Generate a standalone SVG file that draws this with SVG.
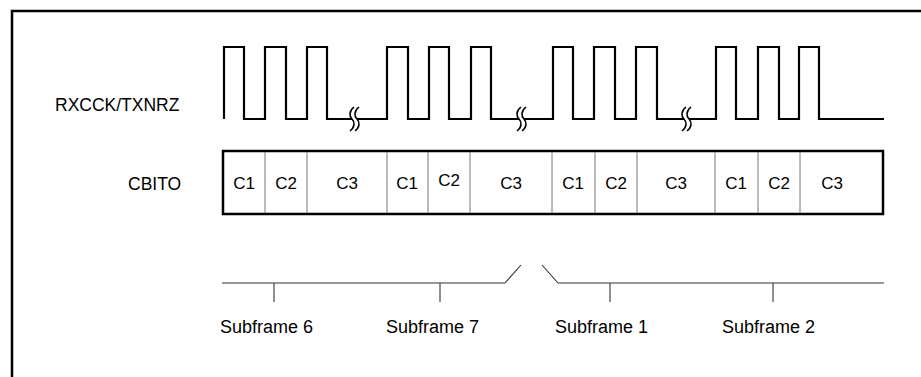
<svg xmlns="http://www.w3.org/2000/svg" width="921" height="377" viewBox="0 0 921 377">
<style>
text{font-family:"Liberation Sans",Arial,sans-serif;fill:#000}
.lbl{font-size:17.5px}
.cell{font-size:17px;text-anchor:middle}
.sub{font-size:18px}
.wave{fill:none;stroke:#000;stroke-width:2.2;stroke-linejoin:miter}
.sq{fill:none;stroke:#000;stroke-width:1.6}
.div{stroke:#777;stroke-width:1}
.conn{fill:none;stroke:#333;stroke-width:1.1}
</style>
<rect width="921" height="377" fill="#fff"/>
<path d="M12,377 V11 H921" fill="none" stroke="#000" stroke-width="2.5"/>
<g id="label-rxcck"><text class="lbl" x="55" y="111">RXCCK/TXNRZ</text></g>
<g id="label-cbito"><text class="lbl" x="128" y="190">CBITO</text></g>
<g id="waveform">
<path class="wave" d="M224,119 V47 H244 V119 H265 V47 H286 V119 H307 V47 H327 V119 H352 M357,119 H387 V47 H408 V119 H429 V47 H449 V119 H471 V47 H491 V119 H519 M524,119 H553 V47 H573 V119 H594 V47 H615 V119 H636 V47 H657 V119 H684 M689,119 H716 V47 H736 V119 H758 V47 H779 V119 H799 V47 H819 V119 H884"/>
<path class="sq" d="M354,107 C349,111 349,116 352,119 C355,122 355,127 350,131 M359,107 C354,111 354,116 357,119 C360,122 360,127 355,131"/>
<path class="sq" d="M521,107 C516,111 516,116 519,119 C522,122 522,127 517,131 M526,107 C521,111 521,116 524,119 C527,122 527,127 522,131"/>
<path class="sq" d="M686,107 C681,111 681,116 684,119 C687,122 687,127 682,131 M691,107 C686,111 686,116 689,119 C692,122 692,127 687,131"/>
</g>
<g id="cbito-box">
<rect x="223" y="151" width="660" height="63" fill="#fff" stroke="#000" stroke-width="2.5"/>
<g class="div">
<line x1="265" y1="152" x2="265" y2="213"/><line x1="307" y1="152" x2="307" y2="213"/>
<line x1="387" y1="152" x2="387" y2="213"/><line x1="428" y1="152" x2="428" y2="213"/>
<line x1="470" y1="152" x2="470" y2="213"/><line x1="552" y1="152" x2="552" y2="213"/>
<line x1="595" y1="152" x2="595" y2="213"/><line x1="637" y1="152" x2="637" y2="213"/>
<line x1="715" y1="152" x2="715" y2="213"/><line x1="758" y1="152" x2="758" y2="213"/>
<line x1="800" y1="152" x2="800" y2="213"/>
</g>
<text class="cell" x="244" y="189">C1</text><text class="cell" x="286" y="189">C2</text><text class="cell" x="347" y="189">C3</text>
<text class="cell" x="407" y="189">C1</text><text class="cell" x="449" y="186">C2</text><text class="cell" x="511" y="189">C3</text>
<text class="cell" x="573" y="189">C1</text><text class="cell" x="616" y="189">C2</text><text class="cell" x="676" y="189">C3</text>
<text class="cell" x="736" y="189">C1</text><text class="cell" x="779" y="189">C2</text><text class="cell" x="832" y="189">C3</text>
</g>
<g id="connectors">
<path class="conn" d="M222,283 H505 L521,265"/>
<path class="conn" d="M542,265 L558,283 H884"/>
<line class="conn" x1="274" y1="283" x2="274" y2="302"/>
<line class="conn" x1="440" y1="283" x2="440" y2="302"/>
<line class="conn" x1="610" y1="283" x2="610" y2="302"/>
<line class="conn" x1="773" y1="283" x2="773" y2="302"/>
</g>
<g id="subframe-6"><text class="sub" x="220" y="333">Subframe 6</text></g>
<g id="subframe-7"><text class="sub" x="386" y="333">Subframe 7</text></g>
<g id="subframe-1"><text class="sub" x="555" y="333">Subframe 1</text></g>
<g id="subframe-2"><text class="sub" x="722" y="333">Subframe 2</text></g>
</svg>
